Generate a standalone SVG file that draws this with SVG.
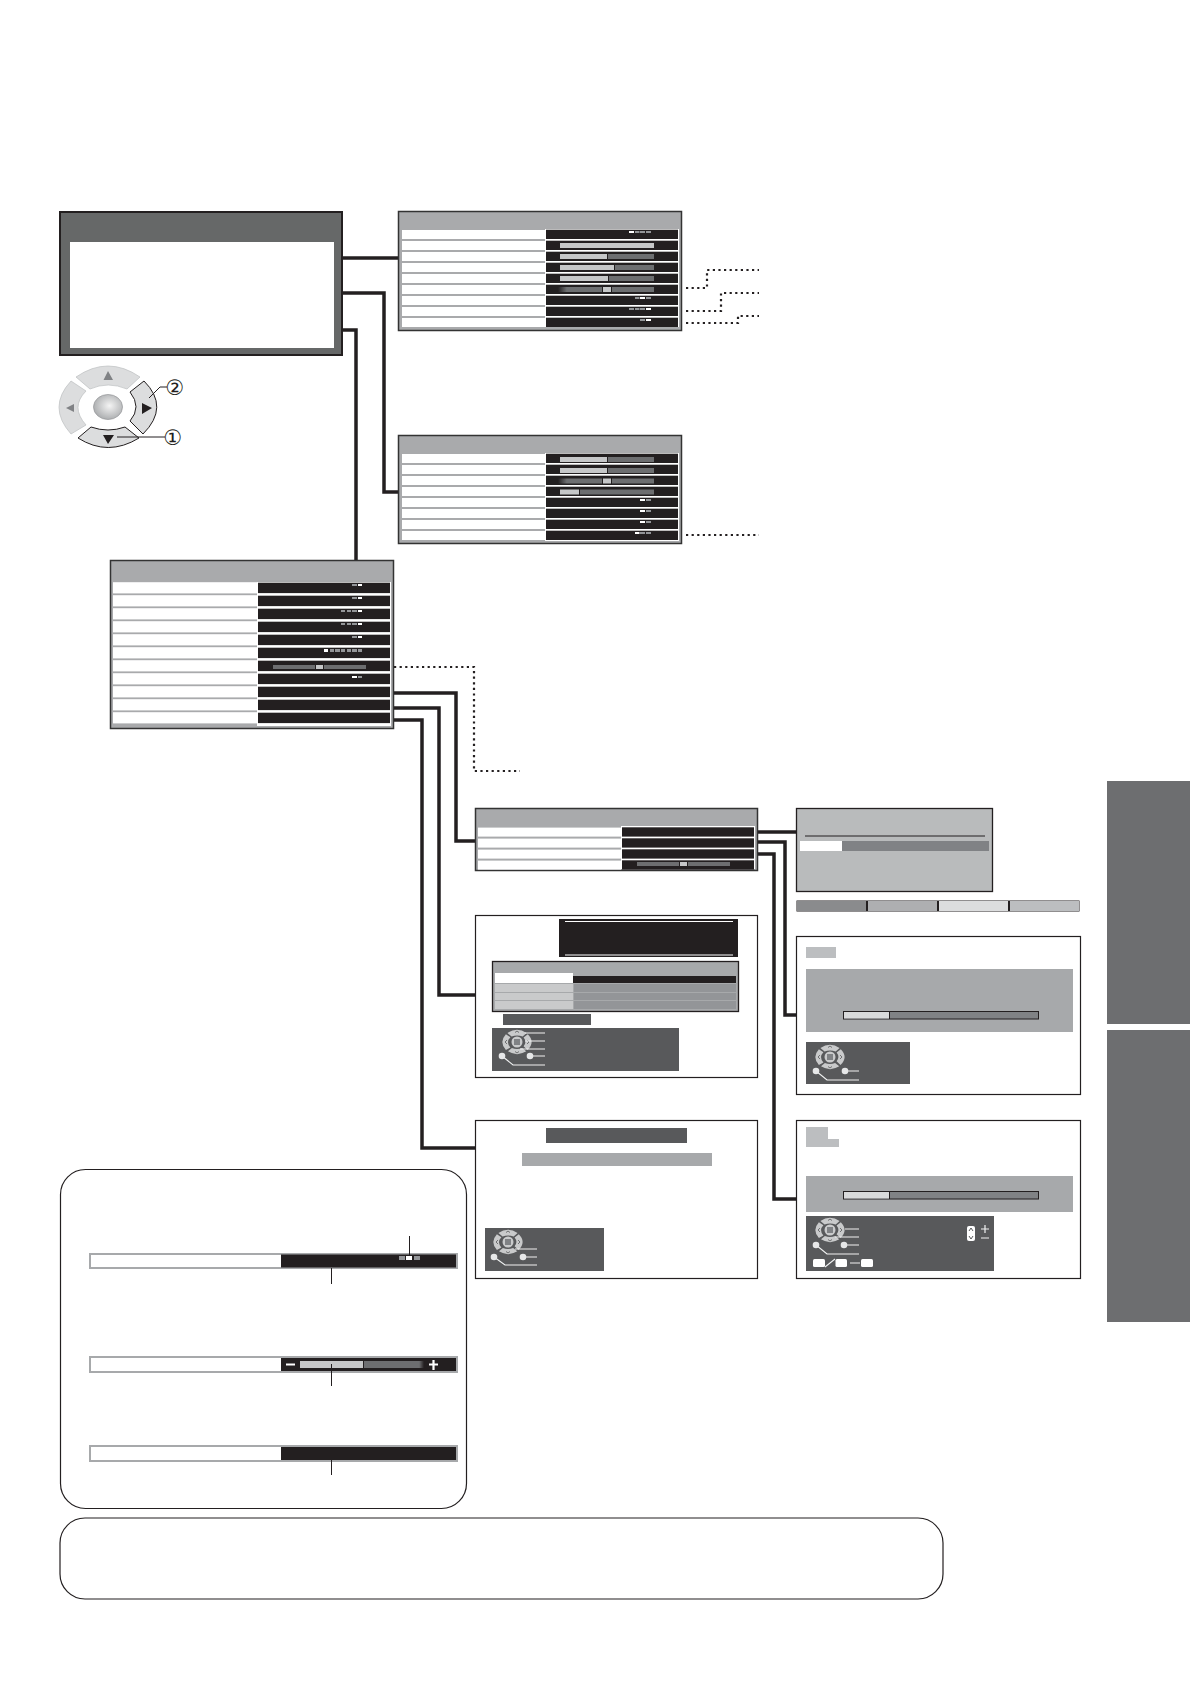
<svg xmlns="http://www.w3.org/2000/svg" width="1190" height="1684" viewBox="0 0 1190 1684">
<style>
.frame{fill:#a9aaac;stroke:#333;stroke-width:1.5}
.white{fill:#fff}
.lab{fill:#fff}
.val{fill:#231f20}
.hi{fill:#c6c7c8}
.lo{fill:#6d6e70}
.dot{fill:#939598}
.on{fill:#fff}
.panel{fill:#fff;stroke:#231f20;stroke-width:1.2}
.dark{fill:#58595b}
.band{fill:#a7a9ab}
.prog{fill:#808285;stroke:#231f20;stroke-width:1}
.solid{fill:none;stroke:#231f20;stroke-width:3.5}
.dotted{fill:none;stroke:#231f20;stroke-width:2.2;stroke-dasharray:2.2 3.4}
.thin{fill:none;stroke:#231f20;stroke-width:1}
.wl{fill:none;stroke:#f1f2f2;stroke-width:1.1}
.wc{fill:#e6e7e8}
.num{font-family:"DejaVu Sans",sans-serif;font-size:21px;fill:#231f20;text-anchor:middle}
.box{fill:#fff;stroke:#231f20;stroke-width:1.2}
.strip{fill:#fff;stroke:#a7a9ab;stroke-width:2}
</style>
<defs>
<linearGradient id="fade" x1="0" x2="1" y1="0" y2="0"><stop offset="0" stop-color="#231f20"/><stop offset="0.2" stop-color="#6d6e70"/></linearGradient>
<linearGradient id="fadeR" x1="0" x2="1" y1="0" y2="0"><stop offset="0.92" stop-color="#6d6e70"/><stop offset="1" stop-color="#231f20"/></linearGradient>
<radialGradient id="btn" cx="0.55" cy="0.45" r="0.6"><stop offset="0" stop-color="#f4f4f4"/><stop offset="1" stop-color="#a7a9ab"/></radialGradient>
<g id="rs"><rect class="lab" x="4" y="0.3" width="143" height="9"/><rect class="val" x="148" width="132" height="9.3"/></g>
<g id="rl"><rect class="lab" x="3" y="-0.5" width="144" height="11.2"/><rect class="val" x="148" width="132" height="10.4"/></g>
<g id="mini">
<path fill="#c9cacb" d="M-32-30Q0-52 32-30L19-18Q0-26-18-18ZM-30 31Q0 50 31 31L17 20Q0 26-17 20ZM-37-26Q-61 0-37 27L-22 18Q-38 0-22-16ZM36-26Q62 0 35 27L22 14Q34 0 22-15Z" transform="scale(.3)"/>
<circle r="5.500" fill="#c9cacb"/>
<rect x="-3" y="-3" width="6" height="6" fill="#808285"/>
<path d="M-2-9.500L0-11L2-9.500M-2 9.500L0 11L2 9.500M-10-2L-12 0L-10 2M10-2L12 0L10 2" fill="none" stroke="#58595b" stroke-width=".8"/>
</g>
</defs>
<rect width="1190" height="1684" fill="#fff"/>

<g id="connectors">
<path class="solid" d="M342 258H398"/>
<path class="solid" d="M342 293H384V492H398"/>
<path class="solid" d="M342 330H356V560"/>
<path class="solid" d="M394 693H456V841H475"/>
<path class="solid" d="M394 708H439V995H475"/>
<path class="solid" d="M394 720H422V1148H475"/>
<path class="solid" d="M757 832H796"/>
<path class="solid" d="M757 842H785V1015H796"/>
<path class="solid" d="M757 854H774V1199H797"/>
<path class="dotted" d="M686 288H707V270H759"/>
<path class="dotted" d="M686 311H721V293H759"/>
<path class="dotted" d="M686 323H738V316H759"/>
<path class="dotted" d="M686 535H759"/>
<path class="dotted" d="M394 667H474V771H520"/>
</g>

<g id="main-menu">
<rect x="60" y="212" width="282" height="143" fill="#666868" stroke="#231f20" stroke-width="2"/>
<rect class="white" x="70" y="242" width="264" height="106"/>
</g>

<g id="remote">
<g transform="translate(108,407)">
<path fill="#dcddde" stroke="#bcbec0" stroke-width=".7" d="M-32-30Q0-52 32-30L19-18Q0-26-18-18Z"/>
<path fill="#dcddde" stroke="#bcbec0" stroke-width=".7" d="M-37-26Q-61 0-37 27L-22 18Q-38 0-22-16Z"/>
<path fill="#dcddde" stroke="#231f20" stroke-width="1" d="M36-26Q62 0 35 27L22 14Q34 0 22-15Z"/>
<path fill="#dcddde" stroke="#231f20" stroke-width="1" d="M-30 31Q0 50 31 31L17 20Q0 26-17 20Z"/>
<ellipse rx="14.500" ry="12.500" fill="url(#btn)" stroke="#939598" stroke-width=".7"/>
<path fill="#808285" d="M0-36L-4.500-27H5ZM-42 1L-34-3V5Z"/>
<path fill="#231f20" d="M44 1L34-4V7ZM-5 28H6L0 37Z"/>
</g>
<path class="thin" d="M149 398L160 387H167M117 437H165"/>
<text class="num" x="175" y="395">②</text>
<text class="num" x="173" y="445">①</text>
</g>

<g id="picture-menu">
<rect class="frame" x="398.500" y="211.500" width="283" height="119"/>
<rect class="white" x="545" y="229" width="134" height="98"/>
<use href="#rs" x="398" y="229.700"/><use href="#rs" x="398" y="240.700"/><use href="#rs" x="398" y="251.700"/><use href="#rs" x="398" y="262.700"/><use href="#rs" x="398" y="273.700"/><use href="#rs" x="398" y="284.700"/><use href="#rs" x="398" y="295.700"/><use href="#rs" x="398" y="306.700"/><use href="#rs" x="398" y="317.700"/>
<rect class="on" x="629" y="231" width="5" height="2"/><rect class="dot" x="635" y="231" width="4.500" height="2"/><rect class="dot" x="640" y="231" width="5" height="2"/><rect class="dot" x="646" y="231" width="5" height="2"/>
<rect class="hi" x="560" y="243" width="94" height="5"/>
<rect class="hi" x="560" y="254" width="47" height="5"/><rect class="lo" x="608" y="254" width="46" height="5"/>
<rect class="hi" x="560" y="265" width="54" height="5"/><rect class="lo" x="615" y="265" width="39" height="5"/>
<rect class="hi" x="560" y="276" width="48" height="5"/><rect class="lo" x="609" y="276" width="45" height="5"/>
<rect x="558" y="287" width="44" height="5" fill="url(#fade)"/><rect class="hi" x="603" y="287" width="8" height="5"/><rect class="lo" x="612" y="287" width="42" height="5"/>
<rect class="dot" x="635" y="297" width="4.500" height="2"/><rect class="on" x="640" y="297" width="5" height="2"/><rect class="dot" x="646" y="297" width="5" height="2"/>
<rect class="dot" x="629" y="308" width="5" height="2"/><rect class="dot" x="635" y="308" width="4.500" height="2"/><rect class="dot" x="640" y="308" width="5" height="2"/><rect class="on" x="646" y="308" width="5" height="2"/>
<rect class="dot" x="640" y="319" width="5" height="2"/><rect class="on" x="646" y="319" width="5" height="2"/>
</g>

<g id="sound-menu">
<rect class="frame" x="398.500" y="435.500" width="283" height="108"/>
<rect class="white" x="545" y="453" width="134" height="88"/>
<use href="#rs" x="398" y="453.700"/><use href="#rs" x="398" y="464.700"/><use href="#rs" x="398" y="475.700"/><use href="#rs" x="398" y="486.700"/><use href="#rs" x="398" y="497.700"/><use href="#rs" x="398" y="508.700"/><use href="#rs" x="398" y="519.700"/><use href="#rs" x="398" y="530.700"/>
<rect class="hi" x="560" y="457" width="47" height="5"/><rect class="lo" x="608" y="457" width="46" height="5"/>
<rect class="hi" x="560" y="468" width="47" height="5"/><rect class="lo" x="608" y="468" width="46" height="5"/>
<rect x="558" y="478.500" width="44" height="5" fill="url(#fade)"/><rect class="hi" x="603" y="478.500" width="8" height="5"/><rect class="lo" x="612" y="478.500" width="42" height="5"/>
<rect class="hi" x="560" y="489.500" width="19" height="5"/><rect class="lo" x="580" y="489.500" width="74" height="5"/>
<rect class="on" x="640" y="499" width="5" height="2"/><rect class="dot" x="646" y="499" width="5" height="2"/>
<rect class="on" x="640" y="510" width="5" height="2"/><rect class="dot" x="646" y="510" width="5" height="2"/>
<rect class="on" x="640" y="521" width="5" height="2"/><rect class="dot" x="646" y="521" width="5" height="2"/>
<rect class="on" x="635" y="532" width="4.500" height="2"/><rect class="dot" x="640" y="532" width="5" height="2"/><rect class="dot" x="646" y="532" width="5" height="2"/>
</g>

<g id="setup-menu">
<rect class="frame" x="110.500" y="560.500" width="283" height="168"/>
<rect class="white" x="257" y="582" width="134" height="144"/>
<use href="#rl" x="110" y="582.700"/><use href="#rl" x="110" y="595.700"/><use href="#rl" x="110" y="608.700"/><use href="#rl" x="110" y="621.700"/><use href="#rl" x="110" y="634.700"/><use href="#rl" x="110" y="647.700"/><use href="#rl" x="110" y="660.700"/><use href="#rl" x="110" y="673.700"/><use href="#rl" x="110" y="686.700"/><use href="#rl" x="110" y="699.700"/><use href="#rl" x="110" y="712.700"/>
<rect class="dot" x="352" y="584" width="5" height="2"/><rect class="on" x="358" y="584" width="4" height="2"/>
<rect class="dot" x="352" y="597" width="5" height="2"/><rect class="on" x="358" y="597" width="4" height="2"/>
<rect class="dot" x="341" y="610" width="4" height="2"/><rect class="dot" x="347" y="610" width="4" height="2"/><rect class="dot" x="352" y="610" width="5" height="2"/><rect class="on" x="358" y="610" width="4" height="2"/>
<rect class="dot" x="341" y="623" width="4" height="2"/><rect class="dot" x="347" y="623" width="4" height="2"/><rect class="dot" x="352" y="623" width="5" height="2"/><rect class="on" x="358" y="623" width="4" height="2"/>
<rect class="dot" x="352" y="636" width="5" height="2"/><rect class="on" x="358" y="636" width="4" height="2"/>
<rect class="on" x="324" y="649" width="4" height="3"/><rect class="dot" x="330" y="649" width="4" height="3"/><rect class="dot" x="335" y="649" width="5" height="3"/><rect class="dot" x="341" y="649" width="4" height="3"/><rect class="dot" x="347" y="649" width="4" height="3"/><rect class="dot" x="352" y="649" width="5" height="3"/><rect class="dot" x="358" y="649" width="4" height="3"/>
<rect class="lo" x="273" y="665" width="42" height="4"/><rect class="hi" x="316" y="665" width="7" height="4"/><rect class="lo" x="324" y="665" width="42" height="4"/>
<rect class="on" x="352" y="676" width="5" height="2"/><rect class="dot" x="358" y="676" width="4" height="2"/>
</g>

<g id="advanced-menu">
<rect class="frame" x="475.500" y="808.500" width="282" height="62"/>
<rect class="white" x="621" y="826" width="134" height="43"/>
<use href="#rs" x="474" y="827.300"/><use href="#rs" x="474" y="838.300"/><use href="#rs" x="474" y="849.300"/><use href="#rs" x="474" y="860.300"/>
<rect class="lo" x="637" y="862" width="42" height="4"/><rect class="hi" x="680" y="862" width="7" height="4"/><rect class="lo" x="688" y="862" width="42" height="4"/>
</g>

<g id="input-panel">
<rect class="panel" x="475.500" y="915.500" width="282" height="162"/>
<rect class="val" x="559" y="919" width="179" height="38"/>
<path d="M565 921.500H733M565 955H733" stroke="#fff" stroke-width="1" fill="none"/>
<rect x="492.500" y="961.500" width="246" height="50" fill="#a7a9ab" stroke="#231f20" stroke-width="1.300"/>
<rect class="white" x="495" y="973" width="78" height="10"/><rect class="val" x="573" y="976" width="163" height="7"/>
<rect fill="#c9cacb" x="495" y="984" width="78" height="8"/><rect fill="#939598" x="574" y="984" width="162" height="8"/>
<rect fill="#c9cacb" x="495" y="993" width="78" height="7"/><rect fill="#939598" x="574" y="993" width="162" height="7"/>
<rect fill="#c9cacb" x="495" y="1001" width="78" height="8"/><rect fill="#939598" x="574" y="1001" width="162" height="8"/>
<rect class="dark" x="503" y="1014" width="88" height="11"/>
<rect class="dark" x="492" y="1028" width="187" height="43"/>
<use href="#mini" x="517" y="1042"/>
<path class="wl" d="M525 1033H545M525 1041H545M520 1049H545M530 1056H545M502 1056L513 1065H545"/>
<circle class="wc" cx="502" cy="1056" r="3.300"/><circle class="wc" cx="530" cy="1056" r="3.300"/>
</g>

<g id="reset-panel">
<rect class="panel" x="475.500" y="1120.500" width="282" height="158"/>
<rect class="dark" x="546" y="1128" width="141" height="15"/>
<rect class="band" x="522" y="1153" width="190" height="13"/>
<rect class="dark" x="485" y="1228" width="119" height="43"/>
<use href="#mini" x="508" y="1242"/>
<path class="wl" d="M515 1249H537M523 1257H537M494 1257L505 1265H537"/>
<circle class="wc" cx="494" cy="1257" r="3.300"/><circle class="wc" cx="523" cy="1257" r="3.300"/>
</g>

<g id="colour-panel">
<rect x="796.500" y="808.500" width="196" height="83" fill="#b9bbbc" stroke="#231f20" stroke-width="1.300"/>
<path d="M805 836H985" stroke="#231f20" stroke-width="1"/>
<rect fill="#808285" x="800" y="841" width="189" height="10"/><rect class="white" x="800" y="841" width="42" height="10"/>
</g>

<g id="colour-strip">
<rect x="796.500" y="900.500" width="283" height="11" fill="#231f20"/>
<rect fill="#8a8b8d" x="797" y="901" width="69" height="10"/><rect fill="#aeafb1" x="868" y="901" width="69" height="10"/><rect fill="#dcddde" x="939" y="901" width="69" height="10"/><rect fill="#bcbec0" x="1010" y="901" width="69" height="10"/>
</g>

<g id="tuning-panel">
<rect class="panel" x="796.500" y="936.500" width="284" height="158"/>
<rect fill="#bcbec0" x="806" y="947" width="30" height="11"/>
<rect class="band" x="806" y="969" width="267" height="63"/>
<rect class="prog" x="843.500" y="1011.500" width="195" height="7.500"/><rect x="844" y="1012" width="45" height="6.500" fill="#d9dadb"/><path d="M889.500 1012V1019" stroke="#231f20"/>
<rect class="dark" x="806" y="1042" width="104" height="42"/>
<use href="#mini" x="830" y="1057"/>
<path class="wl" d="M845 1071H859M816 1071L827 1080H859"/>
<circle class="wc" cx="816" cy="1071" r="3.300"/><circle class="wc" cx="845" cy="1071" r="3.300"/>
</g>

<g id="manual-panel">
<rect class="panel" x="796.500" y="1120.500" width="284" height="158"/>
<path fill="#bcbec0" d="M806 1127H828V1139H839V1147H806Z"/>
<rect class="band" x="806" y="1176" width="267" height="36"/>
<rect class="prog" x="843.500" y="1191.500" width="195" height="7.500"/><rect x="844" y="1192" width="45" height="6.500" fill="#d9dadb"/><path d="M889.500 1192V1199" stroke="#231f20"/>
<rect class="dark" x="806" y="1216" width="188" height="55"/>
<use href="#mini" x="830" y="1230"/>
<path class="wl" d="M845 1229H859M835 1237H859M844 1245H859M816 1245L827 1254H859M825 1267L835 1259M850 1263H860"/>
<circle class="wc" cx="816" cy="1245" r="3.300"/><circle class="wc" cx="844" cy="1245" r="3.300"/>
<rect class="on" x="813" y="1259" width="12" height="8" rx="1.500"/><rect class="on" x="835.500" y="1259" width="11.500" height="8" rx="1.500"/><rect class="on" x="861" y="1259" width="12" height="8" rx="1.500"/>
<rect class="on" x="967" y="1226" width="8" height="15" rx="2"/>
<path d="M969 1231L971 1228L973 1231M969 1236L971 1239L973 1236" fill="none" stroke="#58595b"/>
<path d="M981 1229H989M985 1225V1233M981 1238H989" fill="none" stroke="#f1f2f2" stroke-width="1.200"/>
</g>

<g id="legend">
<rect class="box" x="60.500" y="1169.500" width="406" height="339" rx="25"/>
<rect class="strip" x="90" y="1254" width="367" height="14"/><rect class="val" x="281" y="1254.500" width="175" height="13"/>
<rect class="dot" x="399" y="1256" width="6" height="4"/><rect class="on" x="406" y="1256" width="6" height="4"/><rect class="dot" x="414" y="1256" width="6" height="4"/>
<rect class="strip" x="90" y="1357" width="367" height="15"/><rect class="val" x="281" y="1358" width="175" height="13"/>
<path d="M286 1364.500H295M429 1364.500H438M433.500 1360V1370" stroke="#fff" stroke-width="2.200" fill="none"/>
<rect class="hi" x="300" y="1361" width="63" height="7"/><rect x="364" y="1361" width="60" height="7" fill="url(#fadeR)"/>
<rect class="strip" x="90" y="1446" width="367" height="15"/><rect class="val" x="281" y="1447" width="175" height="13"/>
<path class="thin" d="M409.500 1236V1255M331.500 1268V1284M331.500 1364V1386M331.500 1460V1475" stroke-width="1.200"/>
</g>

<g id="note">
<rect class="box" x="60" y="1518" width="883" height="81" rx="25"/>
</g>

<g id="side-tabs">
<rect x="1107" y="781" width="83" height="243" fill="#6d6e70"/>
<rect x="1107" y="1030" width="83" height="292" fill="#6d6e70"/>
</g>
</svg>
